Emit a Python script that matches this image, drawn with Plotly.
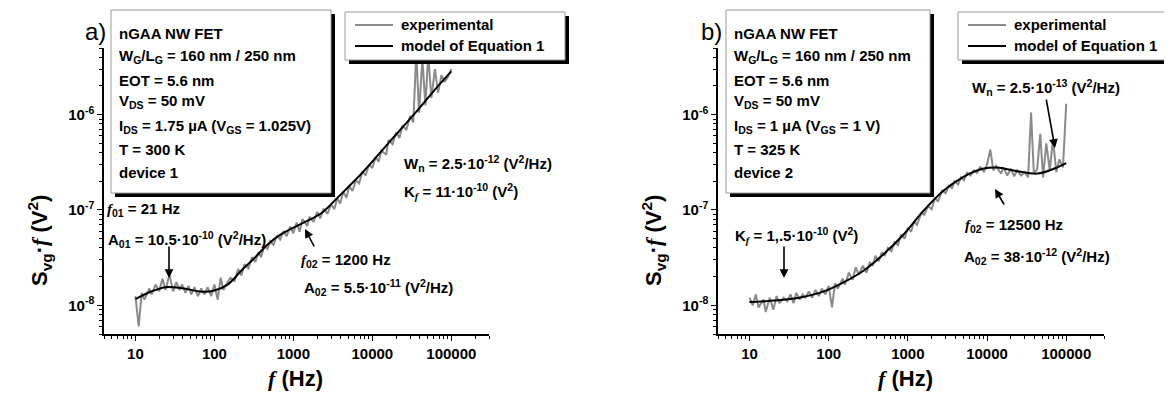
import plotly.graph_objects as go

# ---------------- data ----------------
freq_exp = [10, 11, 12, 13, 15, 16, 18, 20, 22, 24, 27, 30, 33, 36, 39, 43, 47, 51, 56, 62, 68, 75, 82, 91,
            100, 110, 120, 130, 150, 160, 180, 200, 220, 240, 270, 300, 330, 360, 390, 430, 470, 510, 560, 620, 680, 750, 820, 910,
            1000, 1100, 1200, 1300, 1500, 1600, 1800, 2000, 2200, 2400, 2700, 3000, 3300, 3600, 3900, 4300, 4700, 5100, 5600, 6200, 6800, 7500, 8200, 9100,
            10000, 11000, 12000, 13000, 15000, 16000, 18000, 20000, 22000, 24000, 27000, 30000, 33000, 36000, 39000, 43000, 47000, 51000, 56000, 62000, 68000, 75000, 82000, 91000,
            100000]

exp_a = [1.25e-8, 6.0e-9, 1.35e-8, 1.15e-8, 1.5e-8, 1.3e-8, 1.65e-8, 1.4e-8, 1.9e-8, 1.45e-8, 2.1e-8, 1.4e-8,
         1.75e-8, 1.45e-8, 1.65e-8, 1.35e-8, 1.6e-8, 1.3e-8, 1.55e-8, 1.25e-8, 1.5e-8, 1.3e-8, 1.55e-8, 1.25e-8,
         1.65e-8, 1.15e-8, 1.95e-8, 1.45e-8, 1.8e-8, 1.95e-8, 1.8e-8, 2.4e-8, 2.05e-8, 2.7e-8, 2.45e-8, 3.2e-8,
         2.85e-8, 3.6e-8, 3.2e-8, 4.2e-8, 3.9e-8, 4.7e-8, 4.3e-8, 5.4e-8, 4.9e-8, 6.0e-8, 5.3e-8, 6.7e-8,
         5.7e-8, 7.4e-8, 5.9e-8, 8.0e-8, 6.8e-8, 8.5e-8, 7.5e-8, 9.5e-8, 8.2e-8, 1.03e-7, 9.1e-8, 1.15e-7,
         1.02e-7, 1.33e-7, 1.17e-7, 1.55e-7, 1.34e-7, 1.78e-7, 1.58e-7, 2.05e-7, 1.9e-7, 2.55e-7, 2.3e-7, 3.0e-7,
         2.75e-7, 3.6e-7, 3.2e-7, 4.2e-7, 3.8e-7, 5.4e-7, 4.9e-7, 6.5e-7, 5.7e-7, 7.7e-7, 6.9e-7, 9.7e-7,
         8.3e-7, 4.5e-6, 1.05e-6, 3.8e-6, 1.25e-6, 4.2e-6, 1.5e-6, 3.0e-6, 1.7e-6, 2.6e-6, 2.2e-6, 2.5e-6,
         3.0e-6]

exp_b = [1.2e-8, 1.0e-8, 1.3e-8, 9.5e-9, 1.15e-8, 8.5e-9, 1.2e-8, 9.0e-9, 1.25e-8, 1.05e-8, 1.2e-8, 1.1e-8,
         1.3e-8, 1.05e-8, 1.35e-8, 1.15e-8, 1.3e-8, 1.2e-8, 1.4e-8, 1.2e-8, 1.45e-8, 1.25e-8, 1.5e-8, 1.3e-8,
         1.6e-8, 9.5e-9, 1.7e-8, 1.5e-8, 1.9e-8, 1.65e-8, 2.2e-8, 1.85e-8, 2.5e-8, 2.1e-8, 2.6e-8, 2.2e-8,
         2.8e-8, 2.6e-8, 3.3e-8, 2.9e-8, 3.6e-8, 3.3e-8, 4.0e-8, 3.7e-8, 4.6e-8, 4.3e-8, 5.5e-8, 5.0e-8,
         6.5e-8, 5.9e-8, 7.6e-8, 7.0e-8, 9.5e-8, 8.8e-8, 1.1e-7, 1.02e-7, 1.35e-7, 1.22e-7, 1.6e-7, 1.5e-7,
         1.8e-7, 1.7e-7, 2.0e-7, 1.85e-7, 2.2e-7, 2.05e-7, 2.45e-7, 2.3e-7, 2.6e-7, 2.45e-7, 2.85e-7, 2.5e-7,
         3.0e-7, 4.3e-7, 2.6e-7, 2.9e-7, 2.4e-7, 2.8e-7, 2.3e-7, 2.7e-7, 2.25e-7, 2.6e-7, 2.3e-7, 2.5e-7,
         2.2e-7, 1.05e-6, 2.4e-7, 2.7e-7, 6.3e-7, 2.2e-7, 5.0e-7, 2.6e-7, 5.5e-7, 2.5e-7, 3.4e-7, 2.8e-7,
         1.3e-6]

freq_model_a = [10, 15, 24, 39, 69, 100, 150, 220, 330, 480, 710, 1270, 2280, 3700, 7300, 15900, 34500, 61700, 100000]
model_a = [1.16e-8, 1.37e-8, 1.55e-8, 1.51e-8, 1.39e-8, 1.43e-8, 1.67e-8, 2.32e-8, 3.2e-8, 4.4e-8, 5.6e-8,
           7.2e-8, 9.3e-8, 1.37e-7, 2.41e-7, 5.0e-7, 1.03e-6, 1.82e-6, 2.84e-6]

freq_model_b = [10, 20, 44, 87, 156, 278, 500, 895, 1590, 2860, 5100, 9100, 13400, 24000, 43400, 70800, 100000]
model_b = [1.08e-8, 1.12e-8, 1.21e-8, 1.40e-8, 1.75e-8, 2.32e-8, 3.47e-8, 5.6e-8, 9.9e-8, 1.61e-7, 2.24e-7,
           2.72e-7, 2.79e-7, 2.55e-7, 2.41e-7, 2.72e-7, 3.1e-7]

x_tickvals = [10, 100, 1000, 10000, 100000]
x_ticktext = ["<b>10</b>", "<b>100</b>", "<b>1000</b>", "<b>10000</b>", "<b>100000</b>"]
y_tickvals = [1e-8, 1e-7, 1e-6]
y_ticktext = ["<b>10<sup>-8</sup></b>", "<b>10<sup>-7</sup></b>", "<b>10<sup>-6</sup></b>"]

series_names = ["experimental", "model of Equation 1"]

info_a = ["nGAA NW FET", "W<sub>G</sub>/L<sub>G</sub> = 160 nm / 250 nm", "EOT = 5.6 nm",
          "V<sub>DS</sub> = 50 mV", "I<sub>DS</sub> = 1.75 µA (V<sub>GS</sub> = 1.025V)", "T = 300 K", "device 1"]
info_b = ["nGAA NW FET", "W<sub>G</sub>/L<sub>G</sub> = 160 nm / 250 nm", "EOT = 5.6 nm",
          "V<sub>DS</sub> = 50 mV", "I<sub>DS</sub> = 1 µA (V<sub>GS</sub> = 1 V)", "T = 325 K", "device 2"]

# ---------------- styling ----------------
W, H = 1172, 394
FONT = "Liberation Sans"
GRAY = "#8a8a8a"
FI = '<span style="font-family:Liberation Serif"><i>f</i></span>'


def X(x):
    return x / W


def Y(y):
    return 1 - y / H


fig = go.Figure()
fig.add_trace(go.Scatter(x=freq_exp, y=exp_a, mode="lines", line=dict(color=GRAY, width=2),
                         name=series_names[0], xaxis="x", yaxis="y", showlegend=False))
fig.add_trace(go.Scatter(x=freq_model_a, y=model_a, mode="lines", line=dict(color="black", width=2, shape="spline"),
                         name=series_names[1], xaxis="x", yaxis="y", showlegend=False))
fig.add_trace(go.Scatter(x=freq_exp, y=exp_b, mode="lines", line=dict(color=GRAY, width=2),
                         name=series_names[0], xaxis="x2", yaxis="y2", showlegend=False))
fig.add_trace(go.Scatter(x=freq_model_b, y=model_b, mode="lines", line=dict(color="black", width=2, shape="spline"),
                         name=series_names[1], xaxis="x2", yaxis="y2", showlegend=False))

xr = [0.60206, 5.47712]
yr = [-8.30103, -5.30103]

def xax(dom, anchor):
    return dict(type="log", range=xr, domain=dom, anchor=anchor,
                tickmode="array", tickvals=x_tickvals, ticktext=x_ticktext,
                ticks="outside", ticklen=5, tickwidth=1.2, tickcolor="black",
                minor=dict(dtick="D1", ticks="outside", ticklen=3, tickwidth=1, tickcolor="black", showgrid=False),
                showline=True, linecolor="black", linewidth=1.5, mirror=False,
                showgrid=False, zeroline=False,
                tickfont=dict(family=FONT, size=15, color="black"))

def yax(dom, anchor):
    return dict(type="log", range=yr, domain=dom, anchor=anchor,
                tickmode="array", tickvals=y_tickvals, ticktext=y_ticktext,
                ticks="outside", ticklen=5, tickwidth=1.2, tickcolor="black",
                minor=dict(dtick="D1", ticks="outside", ticklen=3, tickwidth=1, tickcolor="black", showgrid=False),
                showline=True, linecolor="black", linewidth=1.5, mirror=False,
                showgrid=False, zeroline=False,
                tickfont=dict(family=FONT, size=15, color="black"))

ydom = [Y(326), Y(40)]
fig.update_layout(
    width=W, height=H, margin=dict(l=0, r=0, t=0, b=0),
    paper_bgcolor="white", plot_bgcolor="white", showlegend=False,
    xaxis=xax([X(96), X(481)], "y"),
    yaxis=yax(ydom, "x"),
    xaxis2=xax([X(710), X(1096)], "y2"),
    yaxis2=yax(ydom, "x2"),
    font=dict(family=FONT, color="black"),
)

shapes = []
annots = []


def box(x0, y0, x1, y1, sh=4):
    shapes.append(dict(type="rect", xref="paper", yref="paper", x0=X(x0 + sh), x1=X(x1 + sh), y0=Y(y1 + sh), y1=Y(y0 + sh),
                       fillcolor="black", line=dict(width=0), layer="above"))
    shapes.append(dict(type="rect", xref="paper", yref="paper", x0=X(x0), x1=X(x1), y0=Y(y1), y1=Y(y0),
                       fillcolor="white", line=dict(color="#9a9a9a", width=1), layer="above"))


def text(x, y, s, size=15, bold=True, anchor="left"):
    annots.append(dict(xref="paper", yref="paper", x=X(x), y=Y(y), text=("<b>%s</b>" % s) if bold else s,
                       showarrow=False, xanchor=anchor, yanchor="middle", borderpad=0,
                       font=dict(family=FONT, size=size, color="black")))


def arrow(x0, y0, x1, y1):
    annots.append(dict(xref="paper", yref="paper", x=X(x1), y=Y(y1), ax=x0 - x1, ay=y0 - y1,
                       axref="pixel", ayref="pixel", text="", showarrow=True,
                       arrowhead=2, arrowsize=1.1, arrowwidth=1.6, arrowcolor="black"))


# info boxes
line_y = [26, 49, 72, 94, 118, 141, 164]
box(103, 2, 323, 185)
for s, yy in zip(info_a, line_y):
    text(110, yy, s)
box(718, 2, 922, 185)
for s, yy in zip(info_b, line_y):
    text(725, yy, s)

# legends
for lx in (337, 950):
    box(lx, 4, lx + 220, 52)
    shapes.append(dict(type="line", xref="paper", yref="paper", x0=X(lx + 10), x1=X(lx + 48), y0=Y(17), y1=Y(17),
                       line=dict(color=GRAY, width=2), layer="above"))
    shapes.append(dict(type="line", xref="paper", yref="paper", x0=X(lx + 10), x1=X(lx + 48), y0=Y(38), y1=Y(38),
                       line=dict(color="black", width=2), layer="above"))
    text(lx + 55, 17, series_names[0])
    text(lx + 55, 38, series_names[1])

# panel labels
text(87, 24, "a)", size=24, bold=False, anchor="center")
text(703, 23, "b)", size=24, bold=False, anchor="center")

# axis titles
for cx in (287, 897):
    annots.append(dict(xref="paper", yref="paper", x=X(cx), y=Y(370), text="<b>%s (Hz)</b>" % FI,
                       showarrow=False, xanchor="center", yanchor="middle",
                       font=dict(family=FONT, size=22, color="black")))
for cx in (31, 645):
    annots.append(dict(xref="paper", yref="paper", x=X(cx), y=Y(233),
                       text="<b>S<sub>vg</sub>·%s (V<sup>2</sup>)</b>" % FI, textangle=-90,
                       showarrow=False, xanchor="center", yanchor="middle",
                       font=dict(family=FONT, size=22, color="black")))

# panel a annotations
text(98, 201, "%s<sub>01</sub> = 21 Hz" % FI)
text(99, 231, "A<sub>01</sub> = 10.5·10<sup>-10</sup> (V<sup>2</sup>/Hz)")
text(292, 252, "%s<sub>02</sub> = 1200 Hz" % FI)
text(295, 279, "A<sub>02</sub> = 5.5·10<sup>-11</sup> (V<sup>2</sup>/Hz)")
text(395, 155, "W<sub>n</sub> = 2.5·10<sup>-12</sup> (V<sup>2</sup>/Hz)")
text(395, 183, "K<sub>%s</sub> = 11·10<sup>-10</sup> (V<sup>2</sup>)" % FI)
arrow(161, 237, 161, 270)
arrow(307, 240, 297, 221)

# panel b annotations
text(726, 227, "K<sub>%s</sub> = 1,.5·10<sup>-10</sup> (V<sup>2</sup>)" % FI)
text(956, 217, "%s<sub>02</sub> = 12500 Hz" % FI)
text(955, 248, "A<sub>02</sub> = 38·10<sup>-12</sup> (V<sup>2</sup>/Hz)")
text(963, 80, "W<sub>n</sub> = 2.5·10<sup>-13</sup> (V<sup>2</sup>/Hz)")
arrow(776, 237, 776, 270)
arrow(997, 198, 987, 181)
arrow(1038, 90, 1047, 140)

fig.update_layout(shapes=shapes, annotations=annots)
fig.write_html("out.html")
